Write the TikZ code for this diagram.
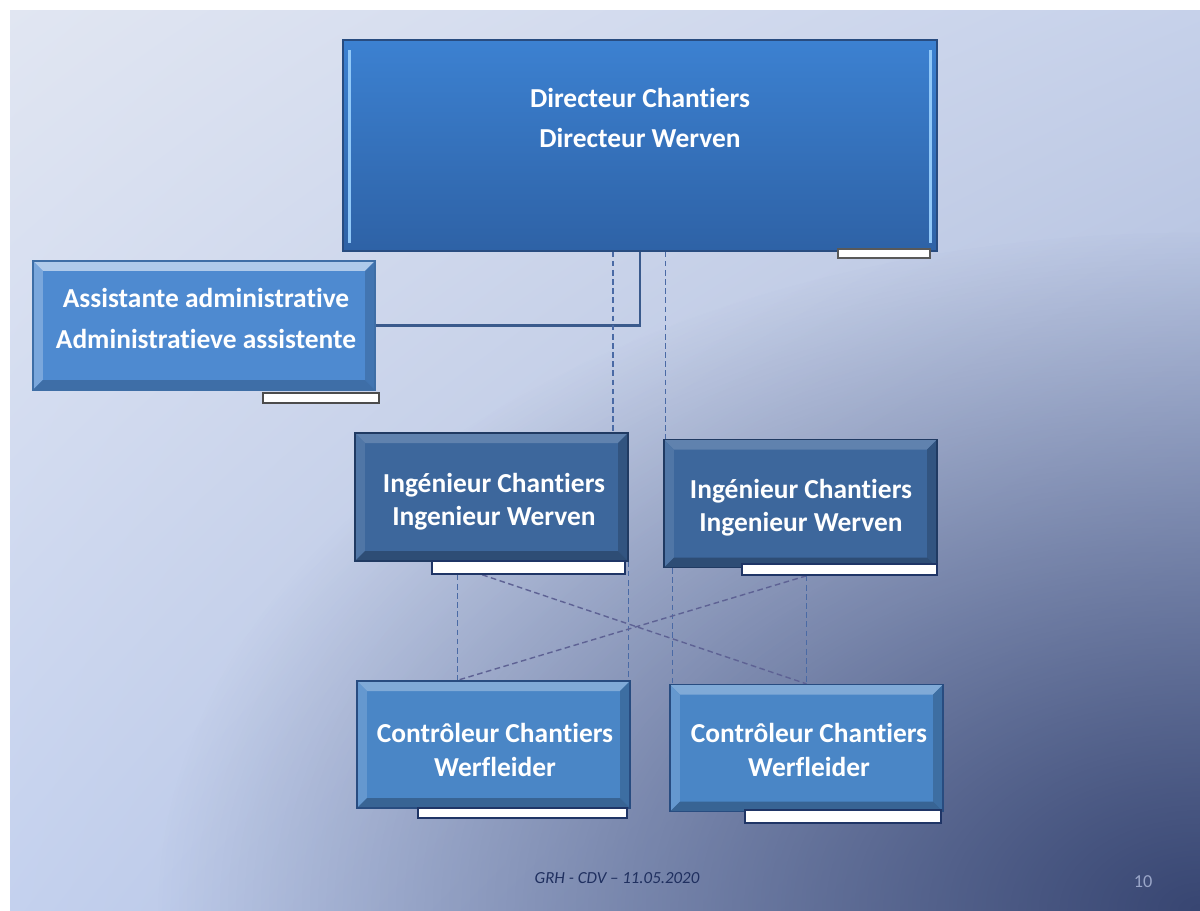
\documentclass[tikz,border=0pt]{standalone}
\usepackage{fontspec}
\setmainfont{Carlito}[Ligatures=NoCommon]
\usepackage{xcolor}
\usetikzlibrary{positioning,fadings,shadings,calc}

\definecolor{bgUL}{HTML}{E1E6F2}
\definecolor{bgUR}{HTML}{C6D1EA}
\definecolor{bgLL}{HTML}{C4D1EE}
\definecolor{bgLR}{HTML}{98A8CE}
\definecolor{bgNavy}{HTML}{384672}
\definecolor{dirTop}{HTML}{3C81D1}
\definecolor{dirBot}{HTML}{2E62A6}
\definecolor{dirLine}{HTML}{284C80}
\definecolor{dirHi}{HTML}{90C8F8}
\definecolor{asFill}{HTML}{4E8AD0}
\definecolor{ingFill}{HTML}{3D679C}
\definecolor{ingLine}{HTML}{203A62}
\definecolor{ctrFill}{HTML}{4A86C6}
\definecolor{tabLine}{HTML}{1F3566}
\definecolor{linkBlue}{HTML}{3A5A8C}
\definecolor{dashBlue}{HTML}{4A6AA5}
\definecolor{dashPurple}{HTML}{5E6294}
\definecolor{footNavy}{HTML}{1F2F5F}
\definecolor{pageGrey}{HTML}{9AA6C8}

% corner darkening: white = opaque, black = transparent
\pgfdeclareradialshading{cornershade}{\pgfpointorigin}{color(0bp)=(white); color(25bp)=(black); color(50bp)=(black)}
\pgfdeclarefading{cornerfade}{\pgfuseshading{cornershade}}

\pgfdeclarelayer{bg}
\pgfdeclarelayer{links}
\pgfsetlayers{bg,links,main}

\def\bevw{0.25cm}

\tikzset{
    orgbox/.style={rectangle, draw=#1, line width=0.9pt, inner sep=0pt},
    bevel/.style n args={4}{path picture={
        % top, left, right, bottom faces
        \fill[#1] (path picture bounding box.north west) -- (path picture bounding box.north east)
            -- ([shift={(-\bevw,-\bevw)}]path picture bounding box.north east)
            -- ([shift={(\bevw,-\bevw)}]path picture bounding box.north west) -- cycle;
        \fill[#2] (path picture bounding box.north west) -- (path picture bounding box.south west)
            -- ([shift={(\bevw,\bevw)}]path picture bounding box.south west)
            -- ([shift={(\bevw,-\bevw)}]path picture bounding box.north west) -- cycle;
        \fill[#3] (path picture bounding box.north east) -- (path picture bounding box.south east)
            -- ([shift={(-\bevw,\bevw)}]path picture bounding box.south east)
            -- ([shift={(-\bevw,-\bevw)}]path picture bounding box.north east) -- cycle;
        \fill[#4] (path picture bounding box.south west) -- (path picture bounding box.south east)
            -- ([shift={(-\bevw,\bevw)}]path picture bounding box.south east)
            -- ([shift={(\bevw,\bevw)}]path picture bounding box.south west) -- cycle;
    }},
    dirbox/.style={orgbox=dirLine, top color=dirTop, bottom color=dirBot,
        minimum width=14.85cm, minimum height=5.275cm,
        path picture={
            \fill[dirHi] ([shift={(0.12cm,-0.25cm)}]path picture bounding box.north west)
                rectangle ([shift={(0.2cm,0.2cm)}]path picture bounding box.south west);
            \fill[dirHi] ([shift={(-0.12cm,-0.25cm)}]path picture bounding box.north east)
                rectangle ([shift={(-0.2cm,0.2cm)}]path picture bounding box.south east);
        }},
    boxtext/.style={text=white, align=center, font=\fontsize{19.5}{#1}\selectfont\bfseries},
    asbox/.style={orgbox=asFill!80!black, fill=asFill, minimum width=8.55cm, minimum height=3.225cm,
        bevel={asFill!45!white}{asFill!75!white}{asFill!85!black}{asFill!80!black}},
    ingbox/.style={orgbox=ingLine, fill=ingFill, minimum width=6.825cm, minimum height=3.2cm,
        bevel={ingFill!82!white}{ingFill!90!white}{ingFill!82!black}{ingFill!75!black}},
    ctrbox/.style={orgbox=dirLine, fill=ctrFill, minimum width=6.825cm, minimum height=3.175cm,
        bevel={ctrFill!70!white}{ctrFill!85!white}{ctrFill!82!black}{ctrFill!75!black}},
    tab/.style={rectangle, fill=white, draw=#1, line width=1.1pt, inner sep=0pt},
    link/.style={draw=linkBlue, line width=2pt},
    vdash/.style={draw=dashBlue, line width=1pt, dash pattern=on 4pt off 2.5pt},
    xdash/.style={draw=dashPurple, line width=1pt, dash pattern=on 4pt off 2.5pt},
    foot/.style={font=\fontsize{12}{14}\selectfont\itshape, text=footNavy},
}

\begin{document}
\begin{tikzpicture}[x=0.025cm, y=-0.025cm]
    % Page and background
    \begin{pgfonlayer}{bg}
        \fill[white] (0,0) rectangle (1200,910);
        \shade[upper left=bgUL, upper right=bgUR, lower left=bgLL, lower right=bgLR]
            (10,10) rectangle (1200,910);
        \begin{scope}
            \clip (10,10) rectangle (1200,910);
            \fill[bgNavy, path fading=cornerfade, fit fading=true]
                (1200,910) ellipse [x radius=26cm, y radius=17cm];
        \end{scope}
    \end{pgfonlayer}

    % Boxes
    \node[dirbox] (dir) at (640,145.5) {};
    \node[asbox] (assist) at (204,325.5) {};
    \node[ingbox] (ing1) at (491.5,497) {};
    \node[ingbox] (ing2) at (800.5,503.5) {};
    \node[ctrbox] (ctr1) at (493.5,744.5) {};
    \node[ctrbox] (ctr2) at (806.5,748) {};

    % Labels
    \node[boxtext=28.5] (dirlbl) at (640,118) {Directeur Chantiers\\Directeur Werven};
    \node[boxtext=29] (aslbl) at (206,318.5) {Assistante administrative\\Administratieve assistente};
    \node[boxtext=23.5] (ing1lbl) at (494,501.5) {Ingénieur Chantiers\\Ingenieur Werven};
    \node[boxtext=23.5] (ing2lbl) at (801,507.5) {Ingénieur Chantiers\\Ingenieur Werven};
    \node[boxtext=24] (ctr1lbl) at (495,750) {Contrôleur Chantiers\\Werfleider};
    \node[boxtext=24] (ctr2lbl) at (809,750) {Contrôleur Chantiers\\Werfleider};

    % Tabs
    \node[tab=gray!70!black, minimum width=2.3cm, minimum height=0.225cm] (dirtab) at (884,253.5) {};
    \node[tab=gray!60!black, minimum width=2.9cm, minimum height=0.25cm] (astab) at (321,398) {};
    \node[tab=tabLine, minimum width=4.825cm, minimum height=0.325cm] (ing1tab) at (528.5,567.5) {};
    \node[tab=tabLine, minimum width=4.875cm, minimum height=0.275cm] (ing2tab) at (839.5,569.5) {};
    \node[tab=tabLine, minimum width=5.225cm, minimum height=0.25cm] (ctr1tab) at (522.5,813) {};
    \node[tab=tabLine, minimum width=4.9cm, minimum height=0.325cm] (ctr2tab) at (843,816.5) {};

    % Connectors
    \coordinate (d1) at ([xshift=-0.675cm]dir.south);
    \coordinate (d2) at (dir.south -| ing2.north west);
    \coordinate (i1a) at ([xshift=0.65cm]ing1tab.south west);
    \coordinate (i1b) at ([xshift=1.275cm]ing1tab.south west);
    \coordinate (i2a) at (ctr2.north |- ing2tab.south);
    \coordinate (i2b) at ([xshift=0.225cm]ing2.south west);
    \begin{pgfonlayer}{links}
        \draw[link] (dir.south) |- (assist.east);
        \draw[vdash] (d1) -- (d1 |- ing1.north);
        \draw[vdash] ([xshift=0.05cm]d2) -- ([xshift=0.05cm]ing2.north west);
        \draw[vdash] (ing1.south east) -- (ing1.south east |- ctr1.north);
        \draw[vdash] (i2b) -- (i2b |- ctr2.north);
        \draw[vdash] (i1a) -- (i1a |- ctr1.north);
        \draw[vdash] (i2a) -- (ctr2.north);
        \draw[xdash] (i1b) -- (ctr2.north);
        \draw[xdash] (i2a) -- (i1a |- ctr1.north);
    \end{pgfonlayer}

    % Footer
    \node[foot] (footer) at (617,878) {GRH - CDV – 11.05.2020};
    \node[font=\fontsize{13}{15}\selectfont, text=pageGrey] (pageno) at (1143,882) {10};
\end{tikzpicture}
\end{document}
